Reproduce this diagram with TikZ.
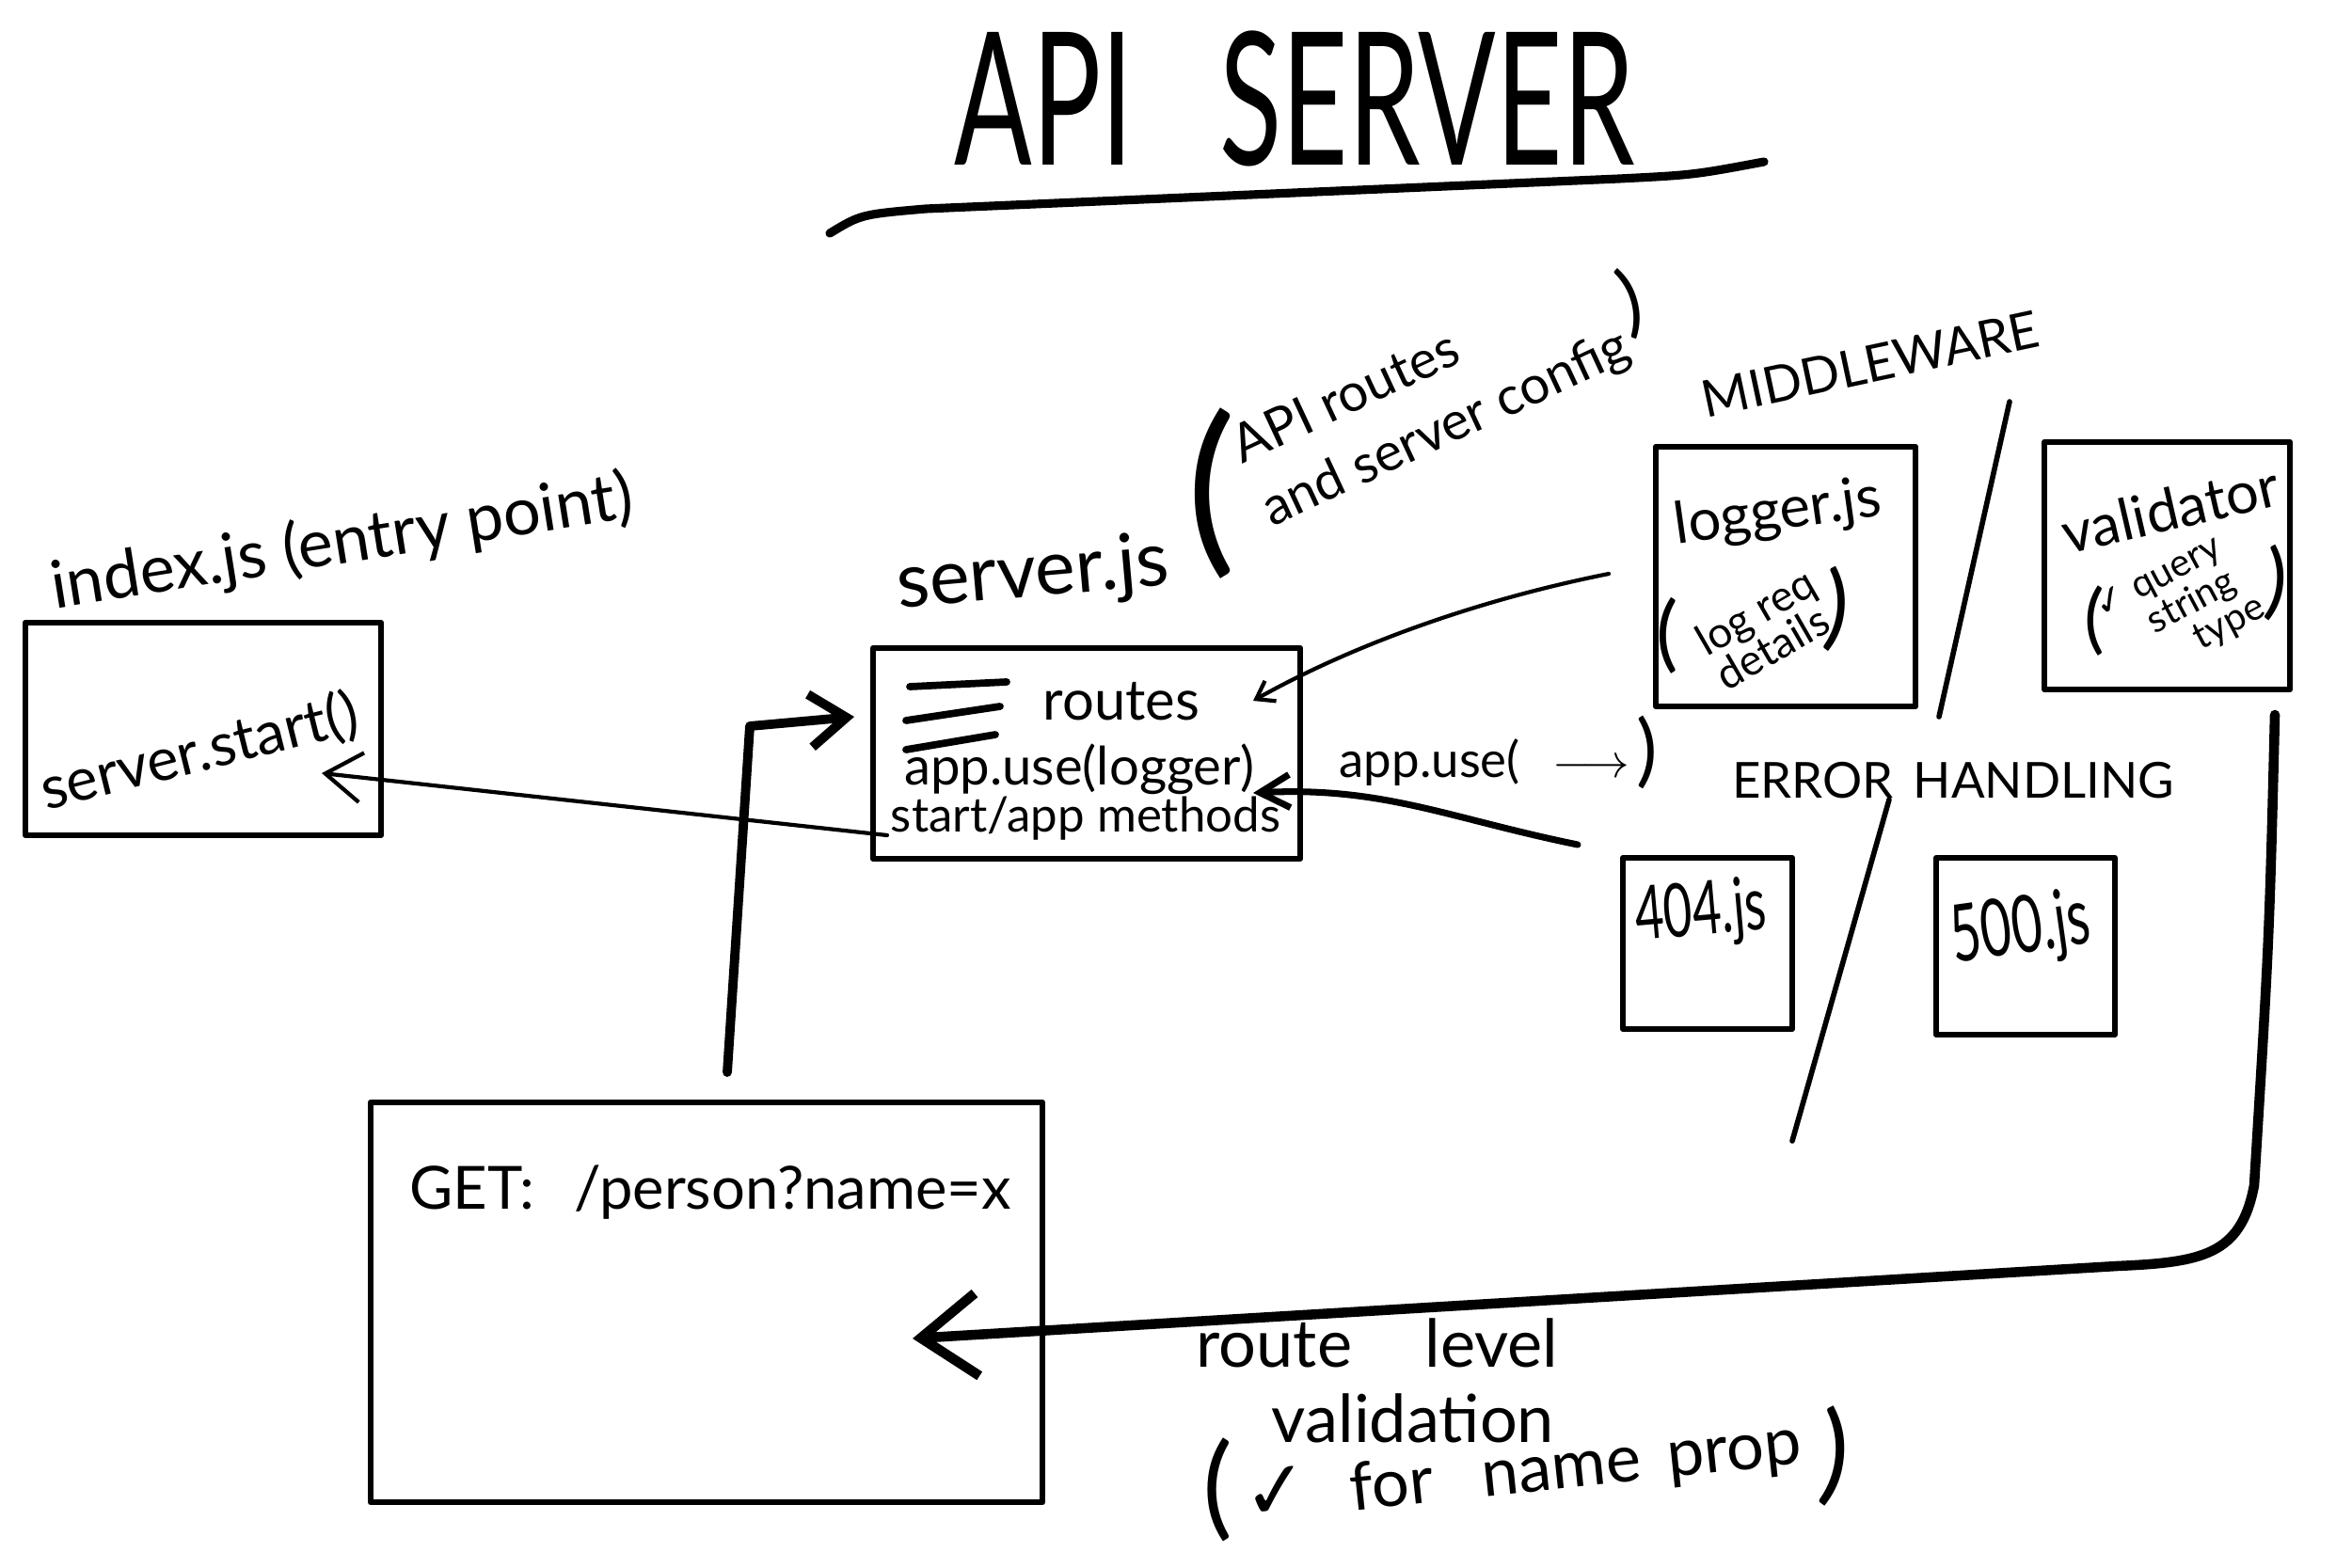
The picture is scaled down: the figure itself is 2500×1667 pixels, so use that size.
\documentclass[tikz,border=0pt]{standalone}
\usepackage{fontspec}
\setmainfont{Lato}
\newfontfamily\djv{DejaVu Sans}
\usepackage{graphicx}
\usetikzlibrary{arrows.meta}
\newcommand\fs[2][]{\fontsize{#2pt}{#2pt}\selectfont}
\newcommand\chk{{\djv ✓}}
\tikzset{
  box/.style={draw, line width=1.7pt, line join=round, inner sep=0pt},
  txt/.style={inner sep=0pt, align=left},
  conn/.style={line width=1.2pt, line cap=round, line join=round},
  heavy/.style={line width=2.8pt, line cap=round, line join=round},
  slash/.style={line width=1.6pt, line cap=round},
  burger/.style={line width=2.2pt, line cap=round}
}
\begin{document}
\begin{tikzpicture}[x=0.01cm, y=-0.01cm]
\useasboundingbox (0,0) rectangle (2500,1667);
\fill[white] (0,0) rectangle (2500,1667);

% title
\node[txt] (title) at (1376,105) {\scalebox{0.62}[1]{\fs{56}API\hspace{42pt}SERVER}};
\draw[line width=2.6pt, line cap=round] (882,248) .. controls (915,228) .. (984,222) -- (1721,190) .. controls (1800,186) .. (1875,172);

% boxes
\node[box, minimum width=3.78cm, minimum height=2.26cm] (index) at (216,775) {};
\node[box, minimum width=4.54cm, minimum height=2.24cm] (server) at (1155,801) {};
\node[box, minimum width=7.14cm, minimum height=4.25cm] (get) at (751,1384.5) {};
\node[box, minimum width=2.76cm, minimum height=2.76cm] (logger) at (1898,613) {};
\node[box, minimum width=2.61cm, minimum height=2.63cm] (validator) at (2303.5,601.5) {};
\node[box, minimum width=1.80cm, minimum height=1.82cm] (e404) at (1815,1003) {};
\node[box, minimum width=1.90cm, minimum height=1.88cm] (e500) at (2153,1006) {};

% index.js
\node[txt, rotate=9, font=\fs{20}] (idxlbl) at (364,578) {index.js (entry point)};
\node[txt, rotate=14, font=\fs{18}] (sstart) at (212,800) {server.start()};

% server.js
\node[txt, rotate=5, font=\fs{23}] (srvlbl) at (1098,612) {server.js};
\node[txt, rotate=25, font=\fontsize{16pt}{21pt}\selectfont] (srvnote) at (1522,424) {API routes\\and server config};
\node[txt, font=\fs{56}] (np1) at (1288,525) {(};
\node[txt, rotate=15, font=\fs{24}] (np2) at (1733,322) {)};
\draw[burger] (967,730) -- (1070,725);
\draw[burger] (963,766) -- (1063,751);
\draw[burger] (963,797) -- (1058,781);
\node[txt, anchor=base, font=\fs{17}] (routes) at (1192,765) {routes};
\node[txt, anchor=base, font=\fs{16}] (appuse) at (1147,834) {app.use(logger)};
\node[txt, anchor=base, font=\fs{14.5}] (startapp) at (1154,884) {start/app methods};

% GET
\node[txt, font=\fs{18}] (gettxt) at (755,1268) {GET:\hspace{12pt}/person?name=x};

% middleware
\node[txt, rotate=12, font=\fs{15.5}] (mw) at (1988,387) {MIDDLEWARE};
\draw[slash] (2136,427) -- (2061,762);
\node[txt, rotate=8, font=\fs{17.5}] (loggertxt) at (1890,546) {logger.js};
\node[txt, rotate=30, font=\fontsize{13pt}{12pt}\selectfont] (logdet) at (1876,668) {log req\\details};
\node[txt, font=\fs{25}] (lp1) at (1772,676) {(};
\node[txt, rotate=-5, font=\fs{28}] (lp2) at (1952,648) {)};
\node[txt, rotate=13, font=\fs{17.5}] (valtxt) at (2307,541) {validator};
\node[txt, rotate=28, font=\fontsize{11.5pt}{8.5pt}\selectfont] (valdet) at (2318,648) {\chk\ query\\\hspace{12pt}string\\\hspace{22pt}type};
\node[txt, font=\fs{23}] (vp1) at (2226,660) {(};
\node[txt, rotate=-5, font=\fs{25}] (vp2) at (2420,620) {)};

% error handling
\node[txt, anchor=base west, font=\fs{15}] (appuse2) at (1423,826) {app.use(\hspace{10pt}$\longrightarrow$\hspace{2pt}{\fs{24})}};
\node[txt, font=\fs{15}] (errh) at (2076,830) {ERROR\hspace{6pt}HANDLING};
\draw[slash] (2008,850) -- (1905,1213);
\node[txt, rotate=5] (t404) at (1808,972) {\scalebox{1}[1.5]{\fs{15}404.js}};
\node[txt, rotate=8] (t500) at (2148,990) {\scalebox{1}[1.5]{\fs{16}500.js}};

% route level validation
\node[txt, font=\fs{20}] (rl) at (1464,1428) {route\hspace{22pt}level};
\node[txt, font=\fs{20}] (rv) at (1502,1508) {validation};
\node[txt, rotate=6, anchor=base west, font=\fs{20}] (rn) at (1324,1618) {{\fs{24}\chk}\hspace{12pt}for\hspace{15pt}name\hspace{8pt}prop};
\node[txt, font=\fs{34}] (rp1) at (1294,1584) {(};
\node[txt, rotate=-5, font=\fs{33}] (rp2) at (1950,1548) {)};

% connector end points
\coordinate (idxIn) at (342,822);
\coordinate (srvOut) at (943,888);
\coordinate (getTop) at (773,1140);
\coordinate (bend1) at (797,772);
\coordinate (srvIn) at (908,762);
\coordinate (logOut) at (1710,610);
\coordinate (routesIn) at (1332,745);
\coordinate (errOut) at (1677,898);
\coordinate (appIn) at (1332,843);
\coordinate (valOut) at (2418,760);
\coordinate (getIn) at (970,1423);

% connectors
\draw[conn, -{Straight Barb[length=11pt, width=15pt]}] (srvOut) -- (idxIn);
\draw[heavy, -{Straight Barb[length=11pt, width=16pt]}] (getTop) -- (bend1) -- (srvIn);
\draw[conn, -{Straight Barb[length=5pt, width=7pt]}] (logOut) .. controls (1560,640) and (1430,690) .. (routesIn);
\draw[line width=2pt, line cap=round, -{Straight Barb[length=9pt, width=10pt]}] (errOut) .. controls (1540,870) and (1470,836) .. (appIn);
\draw[heavy, line width=3pt, -{Straight Barb[length=17pt, width=25pt]}] (valOut) .. controls (2412,1000) .. (2396,1260) .. controls (2382,1335) and (2340,1342) .. (2250,1346) -- (getIn);
\end{tikzpicture}
\end{document}
